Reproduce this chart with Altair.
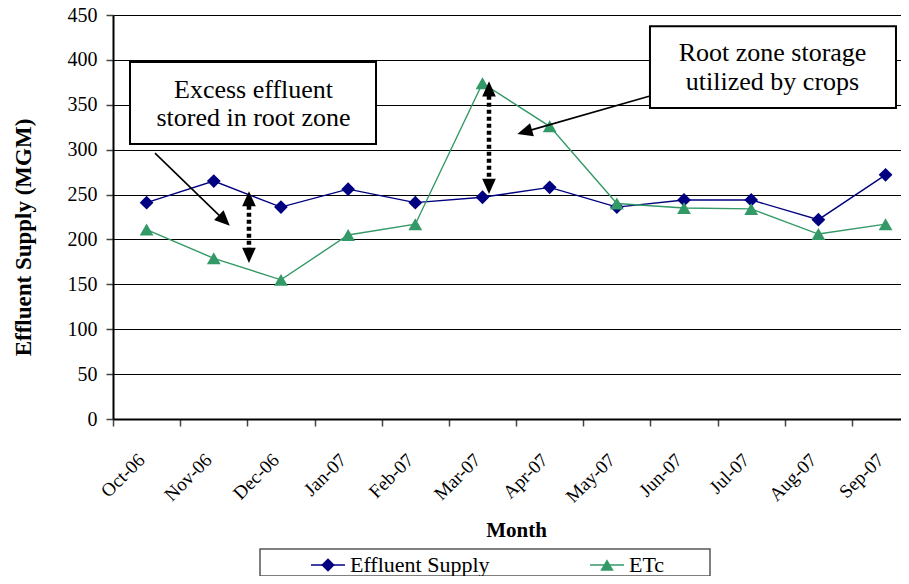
import altair as alt
import pandas as pd

# ---- data ----
months = ["Oct-06", "Nov-06", "Dec-06", "Jan-07", "Feb-07", "Mar-07",
          "Apr-07", "May-07", "Jun-07", "Jul-07", "Aug-07", "Sep-07"]
effluent = [241, 265, 236, 256, 241, 247, 258, 236, 244, 244, 222, 272]
etc = [211, 179, 155, 205, 217, 374, 326, 240, 235, 234, 206, 217]
series_names = ["Effluent Supply", "ETc"]
series_colors = ["#000080", "#339966"]
series_shapes = ["diamond", "triangle-up"]

# annotation geometry in data units (x = month index, y = MGM)
box_x = [0.253, 7.993]
box_x2 = [3.915, 11.655]
box_y = [397.6, 437.6]
box_y2 = [306.2, 346.3]
note_x = [2.092, 2.092, 9.817, 9.817]
note_y = [366.9, 335.2, 408.2, 375.7]
note_text = ["Excess effluent", "stored in root zone",
             "Root zone storage", "utilized by crops"]
arrow_x = [0.625, 7.993]
arrow_y = [296.2, 359.7]
arrow_x2 = [1.657, 6.128]
arrow_y2 = [221.2, 319.8]
arrow_angle = [134, 254]
dot_x = [2.024, 5.597]
dot_top = [245.3, 367.8]
dot_bot = [182.3, 259.1]

FONT = "Liberation Serif"
W, H = 788, 404
STEP = 67.18

rows = []
for i, m in enumerate(months):
    rows.append({"idx": i + 0.5, "month": m, "series": series_names[0], "value": effluent[i]})
    rows.append({"idx": i + 0.5, "month": m, "series": series_names[1], "value": etc[i]})
df = pd.DataFrame(rows)
df_months = pd.DataFrame({"idx": [i + 0.5 for i in range(len(months))], "label": months})

xscale = alt.Scale(domain=[0, W / STEP], nice=False, zero=False)
yscale = alt.Scale(domain=[0, 450], nice=False)
cscale = alt.Scale(domain=series_names, range=series_colors)
sscale = alt.Scale(domain=series_names, range=series_shapes)

x_axis = alt.Axis(values=list(range(12)), labels=False, grid=False, tickSize=7,
                  tickColor="#444444", tickWidth=1.5, domainColor="black", domainWidth=2,
                  title="Month", titleFont=FONT, titleFontSize=21, titleFontWeight="bold",
                  titleColor="black", titleX=403, titleY=111, titleBaseline="middle")
y_axis = alt.Axis(values=list(range(0, 451, 50)), grid=True, gridColor="black", gridWidth=1,
                  tickSize=7, tickColor="#444444", tickWidth=1.5,
                  domainColor="black", domainWidth=2,
                  labelFont=FONT, labelFontSize=20, labelColor="black", labelPadding=9,
                  title="Effluent Supply (MGM)", titleFont=FONT, titleFontSize=23,
                  titleFontWeight="bold", titleColor="black", titleAngle=270,
                  titleX=-90, titleY=222, titleBaseline="middle", titleAlign="center")


def X(field):
    return alt.X(field, scale=xscale, axis=x_axis)


def Y(field):
    return alt.Y(field, scale=yscale, axis=y_axis)


base = alt.Chart(df)
lines = base.mark_line(strokeWidth=1.4).encode(
    x=X("idx:Q"), y=Y("value:Q"),
    color=alt.Color("series:N", scale=cscale, legend=None),
    detail="series:N",
)
points = base.mark_point(filled=True, opacity=1).encode(
    x=X("idx:Q"), y=Y("value:Q"),
    color=alt.Color("series:N", scale=cscale, legend=None),
    shape=alt.Shape("series:N", scale=sscale, legend=None),
    size=alt.value(190),
)

xlabels = alt.Chart(df_months).mark_text(
    font=FONT, fontSize=19, angle=315, align="right", baseline="middle", dx=-7, color="black"
).encode(x=X("idx:Q"), y=alt.value(437), text="label:N")

df_box = pd.DataFrame({"x": box_x, "x2": box_x2, "y": box_y, "y2": box_y2})
boxes = alt.Chart(df_box).mark_rect(fill="white", stroke="black", strokeWidth=2).encode(
    x=X("x:Q"), x2="x2:Q", y=Y("y:Q"), y2="y2:Q")

df_note = pd.DataFrame({"x": note_x, "y": note_y, "t": note_text})
notes = alt.Chart(df_note).mark_text(font=FONT, fontSize=26, color="black",
                                     align="center", baseline="middle").encode(
    x=X("x:Q"), y=Y("y:Q"), text="t:N")

df_arrow = pd.DataFrame({"x": arrow_x, "y": arrow_y, "x2": arrow_x2, "y2": arrow_y2,
                         "ang": arrow_angle})
arrow_lines = alt.Chart(df_arrow).mark_rule(color="black", strokeWidth=1.6).encode(
    x=X("x:Q"), x2="x2:Q", y=Y("y:Q"), y2="y2:Q")
HEAD = "M-0.9,1L0.9,1L0,-1Z"
arrow_heads = alt.Chart(df_arrow).mark_point(filled=True, opacity=1, color="black",
                                             shape=HEAD, size=230).encode(
    x=X("x2:Q"), y=Y("y2:Q"), angle=alt.Angle("ang:Q", scale=None))

df_dot = pd.DataFrame({"x": dot_x, "top": dot_top, "bot": dot_bot})
dot_lines = alt.Chart(df_dot).mark_rule(color="black", strokeWidth=4.5,
                                        strokeDash=[4, 3]).encode(
    x=X("x:Q"), y=Y("top:Q"), y2="bot:Q")
dot_up = alt.Chart(df_dot).mark_point(filled=True, opacity=1, color="black",
                                      shape=HEAD, size=230).encode(
    x=X("x:Q"), y=Y("top:Q"))
dot_down = alt.Chart(df_dot).mark_point(filled=True, opacity=1, color="black",
                                        shape=HEAD, size=230, angle=180).encode(
    x=X("x:Q"), y=Y("bot:Q"))

# ---- legend (drawn below the plot) ----
one = pd.DataFrame({"a": [0]})
leg_box = alt.Chart(one).mark_rect(fill="white", stroke="#555555", strokeWidth=1.5).encode(
    x=alt.value(147), x2=alt.value(597), y=alt.value(534), y2=alt.value(561))
LEG_Y = 550
leg_items = []
for name, col, shp, lx in zip(series_names, series_colors, series_shapes, [198, 477]):
    leg_items.append(alt.Chart(one).mark_rule(color=col, strokeWidth=1.4).encode(
        x=alt.value(lx), x2=alt.value(lx + 34), y=alt.value(LEG_Y)))
    leg_items.append(alt.Chart(one).mark_point(filled=True, opacity=1, color=col,
                                               shape=shp, size=180).encode(
        x=alt.value(lx + 17), y=alt.value(LEG_Y)))
    leg_items.append(alt.Chart(one).mark_text(font=FONT, fontSize=22, color="black",
                                              align="left", baseline="middle").encode(
        x=alt.value(lx + 39), y=alt.value(LEG_Y), text=alt.value(name)))

chart = alt.layer(
    lines, points, xlabels, boxes, notes, arrow_lines, arrow_heads,
    dot_lines, dot_up, dot_down, leg_box, *leg_items
).properties(
    width=W, height=H,
    autosize=alt.AutoSizeParams(type="none"),
    padding={"left": 105, "top": 7, "right": 0, "bottom": 157},
).configure_view(stroke=None).configure(background="white")

chart.save("out.html", embed_options={"renderer": "svg", "actions": False})
